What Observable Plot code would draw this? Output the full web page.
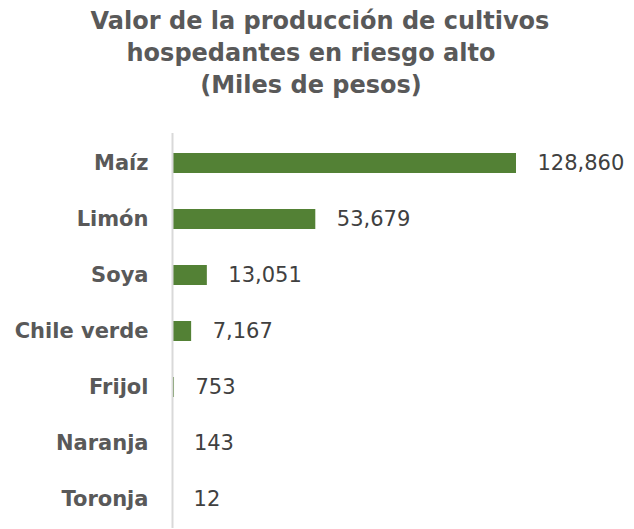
<!DOCTYPE html>
<html>
<head>
<meta charset="utf-8">
<script src="https://cdn.jsdelivr.net/npm/d3@7"></script>
<script src="https://cdn.jsdelivr.net/npm/@observablehq/plot@0.6"></script>
<style>
  body { margin: 0; background: #fff; }
  #title { height: 110px; box-sizing: border-box; padding-top: 5px; text-align: center;
    font-family: "DejaVu Sans", sans-serif; font-weight: bold; font-size: 24px; line-height: 32px; color: #595959; }
  #title div { white-space: nowrap; }
</style>
</head>
<body>
<div id="title">
  <div style="padding-left:6px">Valor de la producción de cultivos</div>
  <div style="padding-right:12px">hospedantes en riesgo alto</div>
  <div style="padding-right:12px">(Miles de pesos)</div>
</div>
<div id="chart"></div>
<script>
const cultivos = ["Maíz", "Limón", "Soya", "Chile verde", "Frijol", "Naranja", "Toronja"];
const valores = [128860, 53679, 13051, 7167, 753, 143, 12];

const data = cultivos.map((c, i) => ({cultivo: c, valor: valores[i]}));

const chart = Plot.plot({
  width: 634,
  height: 419,
  marginTop: 23,
  marginBottom: 1,
  marginLeft: 172,
  marginRight: 118,
  style: {fontFamily: "DejaVu Sans, sans-serif", background: "#fff"},
  x: {domain: [0, 128860], axis: null},
  y: {domain: cultivos, paddingInner: 0.645, paddingOuter: 0.3225, axis: null},
  marks: [
    Plot.barX(data, {y: "cultivo", x: "valor", fill: "#538135"}),
    Plot.ruleX([0], {stroke: "#d9d9d9", strokeWidth: 2}),
    Plot.axisY({tickSize: 0, tickPadding: 24, fontSize: 21, fontWeight: "bold", fill: "#595959", label: null}),
    Plot.text(data, {y: "cultivo", x: "valor", text: d => d3.format(",")(d.valor), textAnchor: "start", dx: 21, fontSize: 21, fill: "#404040"})
  ]
});
document.getElementById("chart").appendChild(chart);
</script>
</body>
</html>
